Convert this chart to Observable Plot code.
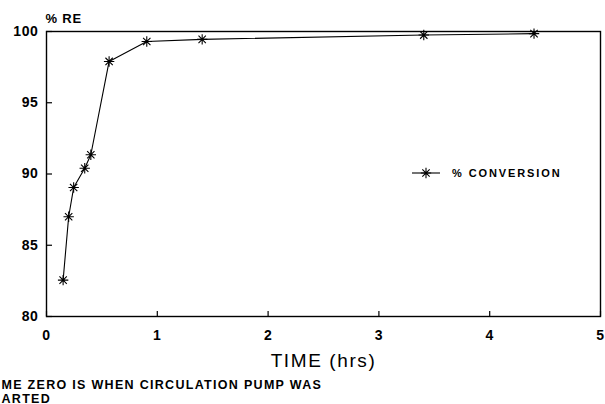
<!DOCTYPE html>
<html>
<head>
<meta charset="utf-8">
<script src="https://cdn.jsdelivr.net/npm/d3@7"></script>
<script src="https://cdn.jsdelivr.net/npm/@observablehq/plot@0.6"></script>
<style>
  html, body { margin: 0; padding: 0; background: #fff; }
  #wrap { position: relative; width: 605px; height: 404px; overflow: hidden; }
  #legend { position: absolute; left: 411px; top: 166px; font: bold 11px "Liberation Sans", Arial, sans-serif; letter-spacing: 1.9px; display: flex; align-items: center; }
</style>
</head>
<body>
<div id="wrap"><div id="chart"></div><div id="legend"></div></div>
<script>
const timeHrs = [0.15, 0.20, 0.245, 0.345, 0.40, 0.565, 0.905, 1.405, 3.405, 4.40];
const conversion = [82.55, 87.0, 89.05, 90.4, 91.35, 97.9, 99.3, 99.45, 99.75, 99.85];
const xTicks = [0, 1, 2, 3, 4, 5];
const yTicks = [80, 85, 90, 95, 100];
const seriesName = "% CONVERSION";
const yTitle = "% RE";
const xTitle = "TIME (hrs)";
const note = "ME ZERO IS WHEN CIRCULATION PUMP WAS\nARTED";

const data = timeHrs.map((t, i) => ({t, v: conversion[i]}));

const star8 = {
  draw(ctx, size) {
    const r = Math.sqrt(size / Math.PI);
    const d = r * Math.SQRT1_2;
    ctx.moveTo(-r, 0); ctx.lineTo(r, 0);
    ctx.moveTo(0, -r); ctx.lineTo(0, r);
    ctx.moveTo(-d, -d); ctx.lineTo(d, d);
    ctx.moveTo(-d, d); ctx.lineTo(d, -d);
  }
};

const W = 605, H = 404, mL = 46, mR = 5, mT = 31, mB = 88;
const fw = W - mL - mR, fh = H - mT - mB;

const chart = Plot.plot({
  width: W, height: H,
  marginLeft: mL, marginRight: mR, marginTop: mT, marginBottom: mB,
  style: {fontFamily: "'Liberation Sans', Arial, sans-serif", background: "#fff", color: "#000", overflow: "visible"},
  x: {domain: [0, 5]},
  y: {domain: [80, 100]},
  marks: [
    Plot.frame({stroke: "#000", strokeWidth: 1.4}),
    Plot.tickX(xTicks, {x: d => d, insetTop: fh - 5, stroke: "#000", strokeWidth: 1.2}),
    Plot.tickY(yTicks, {y: d => d, insetRight: fw - 6, stroke: "#000", strokeWidth: 1.2}),
    Plot.axisX({ticks: xTicks, tickFormat: d => String(d), tickSize: 0, tickPadding: 14, fontSize: 14, fontWeight: "bold", label: null}),
    Plot.axisY({ticks: yTicks, tickFormat: d => String(d), tickSize: 0, tickPadding: 8, fontSize: 14, fontWeight: "bold", label: null}),
    Plot.line(data, {x: "t", y: "v", stroke: "#000", strokeWidth: 1.1}),
    Plot.dot(data, {x: "t", y: "v", symbol: star8, r: 5.2, stroke: "#000", strokeWidth: 1.1, fill: "none"}),
    Plot.text([yTitle], {frameAnchor: "top-left", text: d => d, dx: -1, dy: -9, textAnchor: "start", lineAnchor: "bottom", fontSize: 13, fontWeight: "bold"}),
    Plot.text([xTitle], {frameAnchor: "bottom", text: d => d, dy: 50, lineAnchor: "bottom", fontSize: 19}),
    Plot.text([note], {frameAnchor: "bottom-left", text: d => d, dx: -mL + 1, dy: 86, textAnchor: "start", lineAnchor: "bottom", lineHeight: 1.12, fontSize: 12.5, fontWeight: "bold"})
  ]
});
document.getElementById("chart").appendChild(chart);

// letter spacing tweaks
d3.select(chart).selectAll("text").each(function() {
  const t = this.textContent;
  let ls = null;
  if (t.startsWith("ME ZERO")) ls = "1.3px";
  else if (t === xTitle) ls = "1.6px";
  else if (t === yTitle) ls = "0.8px";
  else if (/^\d+$/.test(t)) ls = "0.6px";
  if (ls) this.style.letterSpacing = ls;
});

// legend
const leg = document.getElementById("legend");
const ns = "http://www.w3.org/2000/svg";
const svg = document.createElementNS(ns, "svg");
svg.setAttribute("width", 30); svg.setAttribute("height", 14);
const g = d3.select(svg);
g.append("line").attr("x1", 1).attr("x2", 29).attr("y1", 7).attr("y2", 7).attr("stroke", "#000").attr("stroke-width", 1.1);
g.append("path").attr("transform", "translate(15,7)").attr("d", d3.symbol(star8, Math.PI * 5.2 * 5.2)()).attr("stroke", "#000").attr("stroke-width", 1.1).attr("fill", "none");
leg.appendChild(svg);
const span = document.createElement("span");
span.textContent = seriesName;
span.style.marginLeft = "11px";
leg.appendChild(span);
</script>
</body>
</html>
